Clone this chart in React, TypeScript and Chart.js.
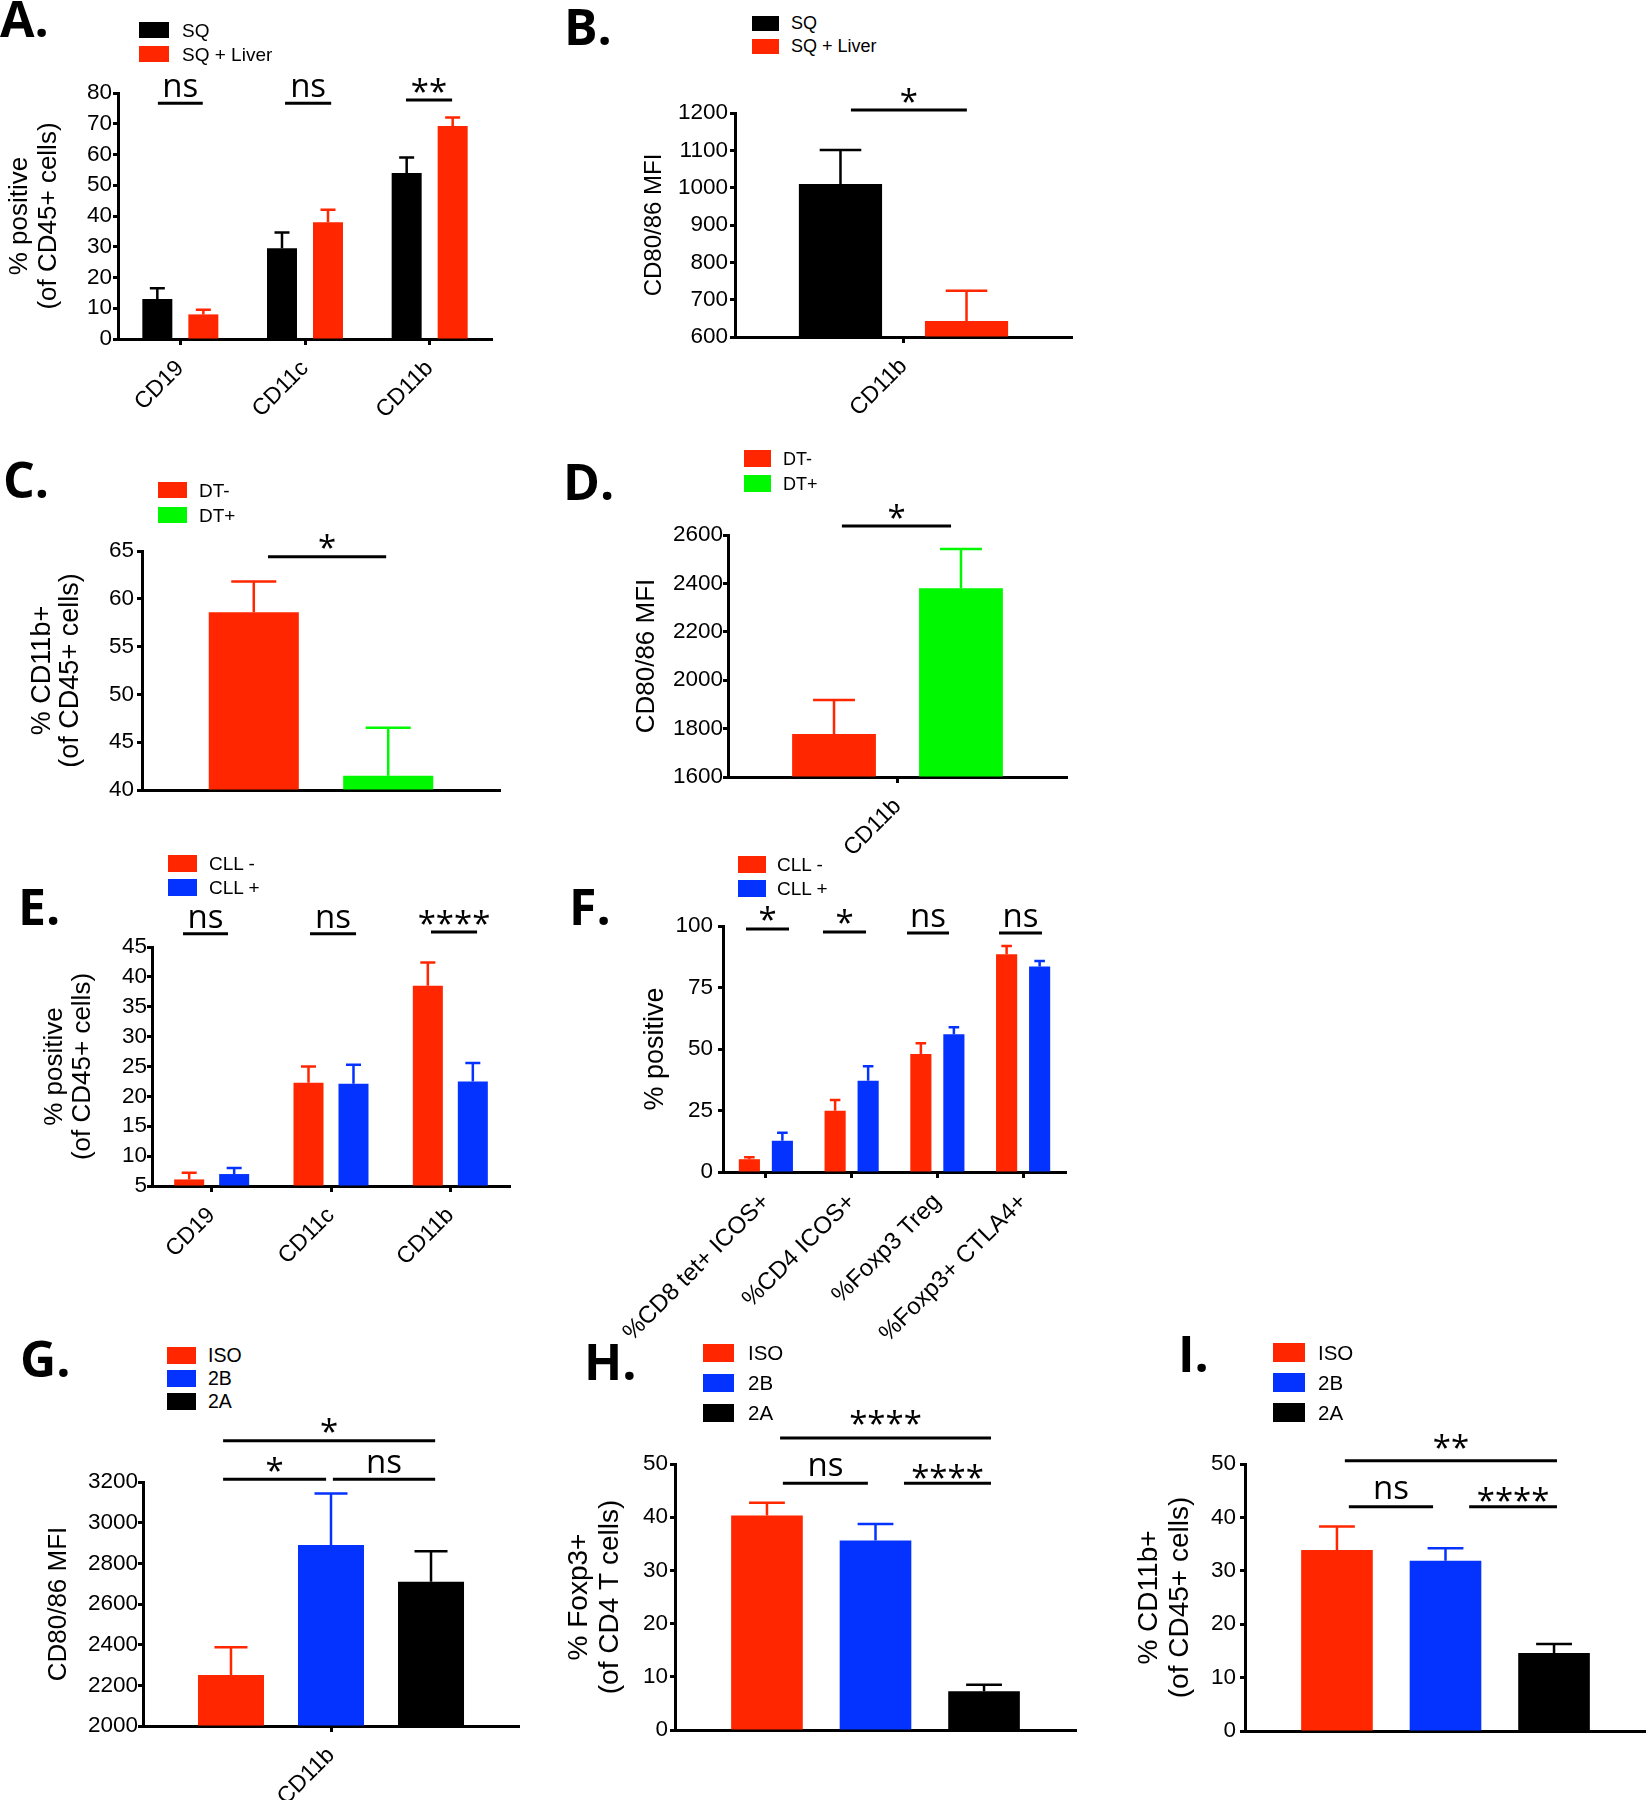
import React, { useEffect, useRef } from 'react';
import { Chart, registerables } from 'chart.js';

Chart.register(...registerables);

// ---------------- colours & fonts ----------------
const RED = '#FF2600';
const BLUE = '#0433FF';
const GREEN = '#00F900';
const BLACK = '#000000';
const SANS = '"Liberation Sans", Arial, sans-serif';
const SIG_FONT = '"Open Sans", sans-serif';

// ---------------- data ----------------
// A
const catsA = ['CD19', 'CD11c', 'CD11b'];
const namesA = ['SQ', 'SQ + Liver'];
const sqA = [13, 29.5, 54];
const sqErrA = [3.5, 5.1, 5];
const liverA = [8, 38, 69.3];
const liverErrA = [1.5, 4, 2.7];
const yRangeA = [0, 80, 10];
const sigA = [
  { x1: -0.18, x2: 0.18, y: 76.7, text: 'ns' },
  { x1: 0.84, x2: 1.21, y: 76.7, text: 'ns' },
  { x1: 1.81, x2: 2.18, y: 77.7, text: '**' },
];

// B
const catsB = ['CD11b'];
const namesB = ['SQ', 'SQ + Liver'];
const sqB = [1010];
const sqErrB = [91];
const liverB = [643];
const liverErrB = [81];
const yRangeB = [600, 1200, 100];
const sigB = [{ x1: -0.156, x2: 0.188, y: 1208, text: '*' }];

// C
const catsC = [''];
const namesC = ['DT-', 'DT+'];
const dtNegC = [58.6];
const dtNegErrC = [3.2];
const dtPosC = [41.5];
const dtPosErrC = [5.0];
const yRangeC = [40, 65, 5];
const sigC = [{ x1: -0.148, x2: 0.182, y: 64.4, text: '*' }];

// D
const catsD = ['CD11b'];
const namesD = ['DT-', 'DT+'];
const dtNegD = [1778];
const dtNegErrD = [140];
const dtPosD = [2380];
const dtPosErrD = [162];
const yRangeD = [1600, 2600, 200];
const sigD = [{ x1: -0.164, x2: 0.158, y: 2637, text: '*' }];

// E
const catsE = ['CD19', 'CD11c', 'CD11b'];
const namesE = ['CLL -', 'CLL +'];
const cllNegE = [6.1, 22.3, 38.5];
const cllNegErrE = [1.1, 2.7, 3.9];
const cllPosE = [7.0, 22.1, 22.5];
const cllPosErrE = [1.0, 3.2, 3.1];
const yRangeE = [5, 45, 5];
const sigE = [
  { x1: -0.24, x2: 0.137, y: 47.2, text: 'ns' },
  { x1: 0.824, x2: 1.21, y: 47.2, text: 'ns' },
  { x1: 1.838, x2: 2.224, y: 47.5, text: '****' },
];

// F
const catsF = ['%CD8 tet+ ICOS+', '%CD4 ICOS+', '%Foxp3 Treg', '%Foxp3+ CTLA4+'];
const namesF = ['CLL -', 'CLL +'];
const cllNegF = [5.2, 24.9, 48.0, 88.5];
const cllNegErrF = [0.8, 4.4, 4.3, 3.4];
const cllPosF = [12.7, 37.1, 56.0, 83.5];
const cllPosErrF = [3.3, 5.9, 2.8, 2.3];
const yRangeF = [0, 100, 25];
const sigF = [
  { x1: -0.232, x2: 0.27, y: 98.8, text: '*' },
  { x1: 0.666, x2: 1.168, y: 97.6, text: '*' },
  { x1: 1.646, x2: 2.136, y: 97.2, text: 'ns' },
  { x1: 2.719, x2: 3.22, y: 97.2, text: 'ns' },
];

// G
const catsG = ['CD11b'];
const namesG = ['ISO', '2B', '2A'];
const isoG = [2251];
const isoErrG = [136];
const b2G = [2890];
const b2ErrG = [254];
const a2G = [2710];
const a2ErrG = [150];
const yRangeG = [2000, 3200, 200];
const sigG = [
  { x1: -0.287, x2: 0.277, y: 3403, text: '*' },
  { x1: -0.287, x2: -0.013, y: 3213, text: '*' },
  { x1: 0.005, x2: 0.277, y: 3213, text: 'ns' },
];

// H
const catsH = [''];
const namesH = ['ISO', '2B', '2A'];
const isoH = [40.3];
const isoErrH = [2.4];
const b2H = [35.6];
const b2ErrH = [3.1];
const a2H = [7.3];
const a2ErrH = [1.2];
const yRangeH = [0, 50, 10];
const sigH = [
  { x1: -0.238, x2: 0.288, y: 54.9, text: '****', dy: 20 },
  { x1: -0.231, x2: -0.019, y: 46.4, text: 'ns', dy: 16 },
  { x1: 0.071, x2: 0.288, y: 46.4, text: '****', dy: 12 },
];

// I
const catsI = [''];
const namesI = ['ISO', '2B', '2A'];
const isoI = [33.9];
const isoErrI = [4.4];
const b2I = [31.9];
const b2ErrI = [2.3];
const a2I = [14.6];
const a2ErrI = [1.7];
const yRangeI = [0, 50, 10];
const sigI = [
  { x1: -0.251, x2: 0.278, y: 50.6, text: '**', dy: 19 },
  { x1: -0.241, x2: -0.031, y: 42.0, text: 'ns', dy: 17 },
  { x1: 0.059, x2: 0.278, y: 42.0, text: '****', dy: 12 },
];

// ---------------- types ----------------
type Series = { label: string; color: string; values: number[]; errors: number[] };
type Sig = { x1: number; x2: number; y: number; text: string; dy?: number };
type LegendPos = { x: number; y: number; w: number; h: number; gap: number; tx: number; fs: number; bl: number };
type PanelSpec = {
  letter: string;
  letterPos: { x: number; base: number };
  canvas: { left: number; top: number; width: number; height: number };
  area: { l: number; t: number; r: number; b: number };
  labels: string[];
  series: Series[];
  yRange: number[];
  tickPad: number;
  yTitle: string | string[];
  titleFont: number;
  titleLH: number;
  titleCenter: number;
  xFont: number;
  showX: boolean;
  catPct: number;
  barPct: number;
  sig: Sig[];
  legend: LegendPos;
};

const mk = (names: string[], colors: string[], vals: number[][], errs: number[][]): Series[] =>
  names.map((n, i) => ({ label: n, color: colors[i], values: vals[i], errors: errs[i] }));

const YTICK_FONT = 22.5;

const PANELS: PanelSpec[] = [
  {
    letter: 'A.', letterPos: { x: 0, base: 37 },
    canvas: { left: 0, top: 60, width: 500, height: 360 },
    area: { l: 118, t: 93, r: 492, b: 339 },
    labels: catsA,
    series: mk(namesA, [BLACK, RED], [sqA, liverA], [sqErrA, liverErrA]),
    yRange: yRangeA, tickPad: 1,
    yTitle: ['% positive', '(of CD45+ cells)'], titleFont: 26, titleLH: 29, titleCenter: 20,
    xFont: 23, showX: true, catPct: 0.738, barPct: 0.652, sig: sigA,
    legend: { x: 139, y: 22, w: 30, h: 16, gap: 24, tx: 183, fs: 19, bl: 15 },
  },
  {
    letter: 'B.', letterPos: { x: 564, base: 45 },
    canvas: { left: 560, top: 60, width: 520, height: 360 },
    area: { l: 735, t: 113, r: 1072, b: 337 },
    labels: catsB,
    series: mk(namesB, [BLACK, RED], [sqB, liverB], [sqErrB, liverErrB]),
    yRange: yRangeB, tickPad: 2,
    yTitle: 'CD80/86 MFI', titleFont: 24, titleLH: 28.8, titleCenter: 654,
    xFont: 23, showX: true, catPct: 0.748, barPct: 0.66, sig: sigB,
    legend: { x: 752, y: 16, w: 27, h: 15, gap: 23, tx: 792, fs: 18, bl: 13.5 },
  },
  {
    letter: 'C.', letterPos: { x: 3, base: 498 },
    canvas: { left: 0, top: 440, width: 510, height: 370 },
    area: { l: 142, t: 551, r: 500, b: 790 },
    labels: catsC,
    series: mk(namesC, [RED, GREEN], [dtNegC, dtPosC], [dtNegErrC, dtPosErrC]),
    yRange: yRangeC, tickPad: 3,
    yTitle: ['% CD11b+', '(of CD45+ cells)'], titleFont: 27, titleLH: 28, titleCenter: 42.3,
    xFont: 23, showX: false, catPct: 0.751, barPct: 0.67, sig: sigC,
    legend: { x: 158, y: 482, w: 29, h: 16, gap: 25, tx: 200, fs: 19, bl: 14.7 },
  },
  {
    letter: 'D.', letterPos: { x: 563, base: 500 },
    canvas: { left: 560, top: 480, width: 560, height: 410 },
    area: { l: 728, t: 535, r: 1067, b: 777 },
    labels: catsD,
    series: mk(namesD, [RED, GREEN], [dtNegD, dtPosD], [dtNegErrD, dtPosErrD]),
    yRange: yRangeD, tickPad: 0,
    yTitle: 'CD80/86 MFI', titleFont: 26, titleLH: 31.2, titleCenter: 646.6,
    xFont: 23, showX: true, catPct: 0.749, barPct: 0.66, sig: sigD,
    legend: { x: 744, y: 450, w: 27, h: 16.5, gap: 25, tx: 784, fs: 18, bl: 15 },
  },
  {
    letter: 'E.', letterPos: { x: 18, base: 925 },
    canvas: { left: 0, top: 895, width: 520, height: 370 },
    area: { l: 152, t: 947, r: 510, b: 1186 },
    labels: catsE,
    series: mk(namesE, [RED, BLUE], [cllNegE, cllPosE], [cllNegErrE, cllPosErrE]),
    yRange: yRangeE, tickPad: 0,
    yTitle: ['% positive', '(of CD45+ cells)'], titleFont: 26, titleLH: 28.3, titleCenter: 54.8,
    xFont: 23, showX: true, catPct: 0.754, barPct: 0.667, sig: sigE,
    legend: { x: 168, y: 855, w: 29, h: 16.5, gap: 24, tx: 210, fs: 19, bl: 15 },
  },
  {
    letter: 'F.', letterPos: { x: 569, base: 925 },
    canvas: { left: 560, top: 900, width: 560, height: 445 },
    area: { l: 723, t: 926, r: 1066, b: 1172 },
    labels: catsF,
    series: mk(namesF, [RED, BLUE], [cllNegF, cllPosF], [cllNegErrF, cllPosErrF]),
    yRange: yRangeF, tickPad: 5,
    yTitle: '% positive', titleFont: 27, titleLH: 32.4, titleCenter: 656,
    xFont: 24, showX: true, catPct: 0.77, barPct: 0.64, sig: sigF,
    legend: { x: 738, y: 856, w: 28, h: 17, gap: 24, tx: 778, fs: 19, bl: 15.5 },
  },
  {
    letter: 'G.', letterPos: { x: 20, base: 1377 },
    canvas: { left: 0, top: 1415, width: 530, height: 385 },
    area: { l: 143, t: 1482, r: 519, b: 1726 },
    labels: catsG,
    series: mk(namesG, [RED, BLUE, BLACK], [isoG, b2G, a2G], [isoErrG, b2ErrG, a2ErrG]),
    yRange: yRangeG, tickPad: 0,
    yTitle: 'CD80/86 MFI', titleFont: 26, titleLH: 31.2, titleCenter: 59.2,
    xFont: 23, showX: true, catPct: 0.798, barPct: 0.66, sig: sigG,
    legend: { x: 167, y: 1347, w: 29, h: 17, gap: 23, tx: 209, fs: 19.5, bl: 15.5 },
  },
  {
    letter: 'H.', letterPos: { x: 584, base: 1380 },
    canvas: { left: 560, top: 1400, width: 540, height: 350 },
    area: { l: 675, t: 1464, r: 1076, b: 1730 },
    labels: catsH,
    series: mk(namesH, [RED, BLUE, BLACK], [isoH, b2H, a2H], [isoErrH, b2ErrH, a2ErrH]),
    yRange: yRangeH, tickPad: 2,
    yTitle: ['% Foxp3+', '(of CD4 T cells)'], titleFont: 28, titleLH: 31.7, titleCenter: 579,
    xFont: 23, showX: false, catPct: 0.812, barPct: 0.66, sig: sigH,
    legend: { x: 703, y: 1344, w: 31, h: 18, gap: 30, tx: 749, fs: 20.5, bl: 16 },
  },
  {
    letter: 'I.', letterPos: { x: 1178, base: 1372 },
    canvas: { left: 1120, top: 1400, width: 526, height: 350 },
    area: { l: 1245, t: 1464, r: 1646, b: 1731 },
    labels: catsI,
    series: mk(namesI, [RED, BLUE, BLACK], [isoI, b2I, a2I], [isoErrI, b2ErrI, a2ErrI]),
    yRange: yRangeI, tickPad: 4,
    yTitle: ['% CD11b+', '(of CD45+ cells)'], titleFont: 28, titleLH: 31.7, titleCenter: 1149,
    xFont: 23, showX: false, catPct: 0.812, barPct: 0.66, sig: sigI,
    legend: { x: 1273, y: 1343, w: 32, h: 19, gap: 30, tx: 1319, fs: 20.5, bl: 17 },
  },
];

// ---------------- plugins ----------------
const errorBarPlugin = {
  id: 'errorBars',
  afterDatasetsDraw(chart: any) {
    const ctx = chart.ctx;
    const yScale = chart.scales.y;
    chart.data.datasets.forEach((ds: any, di: number) => {
      const meta = chart.getDatasetMeta(di);
      const errs: number[] = ds.errors || [];
      meta.data.forEach((bar: any, i: number) => {
        const v = ds.data[i];
        const e = errs[i];
        if (e == null) return;
        const { x, y, width } = bar.getProps(['x', 'y', 'width'], true);
        const yTop = yScale.getPixelForValue(v + e);
        ctx.save();
        ctx.strokeStyle = ds.backgroundColor;
        ctx.lineWidth = 2.5;
        ctx.beginPath();
        ctx.moveTo(x, y);
        ctx.lineTo(x, yTop);
        ctx.moveTo(x - width / 4, yTop);
        ctx.lineTo(x + width / 4, yTop);
        ctx.stroke();
        ctx.restore();
      });
    });
  },
};

const makeSigPlugin = (sig: Sig[]) => ({
  id: 'sigBrackets',
  afterDraw(chart: any) {
    const ctx = chart.ctx;
    const xs = chart.scales.x;
    const ys = chart.scales.y;
    sig.forEach((s) => {
      const x1 = xs.getPixelForValue(s.x1);
      const x2 = xs.getPixelForValue(s.x2);
      const y = ys.getPixelForValue(s.y);
      ctx.save();
      ctx.strokeStyle = '#000';
      ctx.lineWidth = 3;
      ctx.beginPath();
      ctx.moveTo(x1, y);
      ctx.lineTo(x2, y);
      ctx.stroke();
      ctx.font = `33px ${SIG_FONT}`;
      ctx.fillStyle = '#000';
      ctx.textAlign = 'center';
      ctx.textBaseline = 'alphabetic';
      const m = ctx.measureText(s.text);
      const cy = y - (s.dy ?? 15);
      const base = cy + (m.actualBoundingBoxAscent - m.actualBoundingBoxDescent) / 2;
      ctx.fillText(s.text, (x1 + x2) / 2, base);
      ctx.restore();
    });
  },
});

function buildConfig(p: PanelSpec): any {
  const { canvas, area } = p;
  const [ymin, ymax, ystep] = p.yRange;
  return {
    type: 'bar',
    data: {
      labels: p.labels,
      datasets: p.series.map((s) => ({
        label: s.label,
        data: s.values,
        errors: s.errors,
        backgroundColor: s.color,
        borderWidth: 0,
        categoryPercentage: p.catPct,
        barPercentage: p.barPct,
        base: ymin,
      })),
    },
    options: {
      responsive: false,
      animation: false,
      devicePixelRatio: 1,
      layout: {
        padding: {
          left: 0,
          top: area.t - canvas.top,
          right: canvas.left + canvas.width - area.r,
          bottom: 0,
        },
      },
      plugins: { legend: { display: false }, tooltip: { enabled: false } },
      scales: {
        x: {
          z: 1,
          offset: true,
          grid: {
            display: p.showX,
            offset: false,
            drawOnChartArea: false,
            drawTicks: true,
            tickLength: 6,
            tickWidth: 3,
            color: '#000',
          },
          border: { display: true, width: 3, color: '#000' },
          ticks: {
            display: p.showX,
            color: '#000',
            font: { family: SANS, size: p.xFont },
            minRotation: 45,
            maxRotation: 45,
            padding: 10,
            autoSkip: false,
          },
          afterFit: (s: any) => {
            s.height = canvas.top + canvas.height - area.b;
          },
        },
        y: {
          z: 1,
          min: ymin,
          max: ymax,
          grid: {
            drawOnChartArea: false,
            drawTicks: true,
            tickLength: 5,
            tickWidth: 3,
            color: '#000',
          },
          border: { display: true, width: 3, color: '#000' },
          ticks: {
            stepSize: ystep,
            color: '#000',
            font: { family: SANS, size: YTICK_FONT },
            padding: p.tickPad,
            autoSkip: false,
            callback: (v: any) => String(v),
          },
          title: {
            display: true,
            text: p.yTitle,
            color: '#000',
            font: { family: SANS, size: p.titleFont, lineHeight: p.titleLH / p.titleFont },
            padding: { top: p.titleCenter - canvas.left - p.titleLH / 2, bottom: 0 },
          },
          afterFit: (s: any) => {
            s.width = area.l - canvas.left;
          },
        },
      },
    },
    plugins: [errorBarPlugin, makeSigPlugin(p.sig)],
  };
}

// ---------------- components ----------------
function PanelChart({ spec }: { spec: PanelSpec }) {
  const ref = useRef<HTMLCanvasElement>(null);
  useEffect(() => {
    if (!ref.current) return;
    const chart = new Chart(ref.current, buildConfig(spec));
    return () => chart.destroy();
  }, [spec]);
  const c = spec.canvas;
  return (
    <canvas
      ref={ref}
      width={c.width}
      height={c.height}
      style={{ position: 'absolute', left: c.left, top: c.top, width: c.width, height: c.height }}
    />
  );
}

function Legend({ spec }: { spec: PanelSpec }) {
  const L = spec.legend;
  return (
    <>
      {spec.series.map((s, i) => (
        <React.Fragment key={s.label}>
          <div
            style={{
              position: 'absolute',
              left: L.x,
              top: L.y + i * L.gap,
              width: L.w,
              height: L.h,
              background: s.color,
            }}
          />
          <div
            style={{
              position: 'absolute',
              left: L.tx - 1,
              top: L.y + i * L.gap + L.bl - 0.8465 * L.fs,
              fontFamily: SANS,
              fontSize: L.fs,
              lineHeight: 1,
              whiteSpace: 'nowrap',
              color: '#000',
            }}
          >
            {s.label}
          </div>
        </React.Fragment>
      ))}
    </>
  );
}

function Letter({ spec }: { spec: PanelSpec }) {
  const fs = 50;
  return (
    <div
      style={{
        position: 'absolute',
        left: spec.letterPos.x,
        top: spec.letterPos.base - 0.888 * fs,
        fontFamily: SIG_FONT,
        fontWeight: 700,
        fontSize: fs,
        lineHeight: 1,
        whiteSpace: 'nowrap',
        color: '#000',
      }}
    >
      {spec.letter}
    </div>
  );
}

export default function App() {
  return (
    <div
      style={{
        position: 'absolute',
        left: 0,
        top: 0,
        width: 1646,
        height: 1800,
        background: '#fff',
        overflow: 'hidden',
      }}
    >
      {PANELS.map((p) => (
        <PanelChart key={p.letter} spec={p} />
      ))}
      {PANELS.map((p) => (
        <Legend key={'lg' + p.letter} spec={p} />
      ))}
      {PANELS.map((p) => (
        <Letter key={'lt' + p.letter} spec={p} />
      ))}
    </div>
  );
}
